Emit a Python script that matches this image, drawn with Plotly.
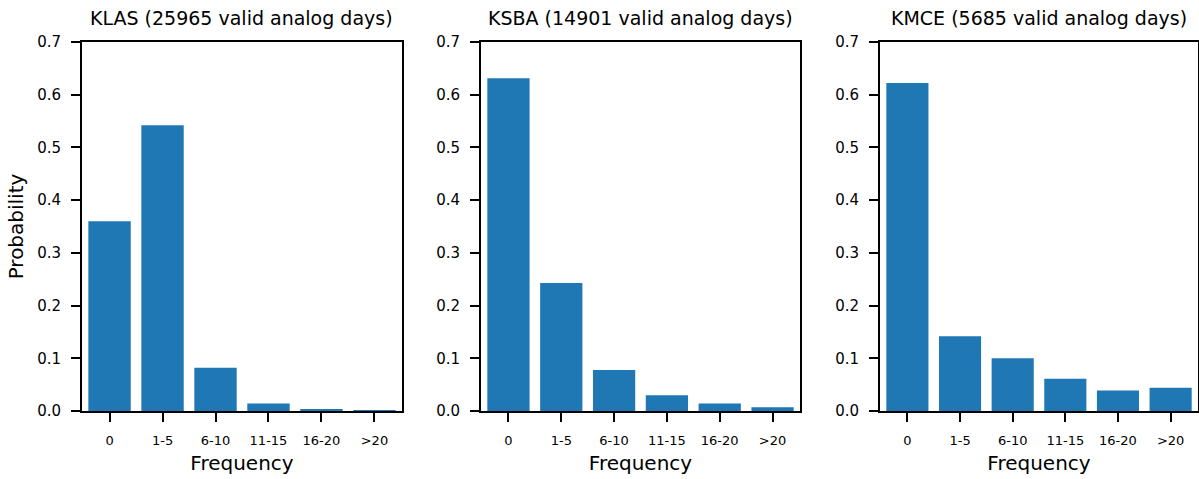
import plotly.graph_objects as go

categories = ["0", "1-5", "6-10", "11-15", "16-20", ">20"]
stations = ["KLAS", "KSBA", "KMCE"]
valid_days = [25965, 14901, 5685]
klas_prob = [0.360, 0.542, 0.082, 0.014, 0.002, 0.0005]
ksba_prob = [0.631, 0.243, 0.078, 0.030, 0.014, 0.007]
kmce_prob = [0.622, 0.142, 0.100, 0.061, 0.039, 0.044]
y_ticks = [0.0, 0.1, 0.2, 0.3, 0.4, 0.5, 0.6, 0.7]

series = [klas_prob, ksba_prob, kmce_prob]
W, H = 1199, 479
x_px = [(82, 402), (481, 800), (880, 1198)]
y_dom = [1 - 411 / H, 1 - 42 / H]

FONT = "DejaVu Sans"
BLUE = "#1f77b4"

fig = go.Figure()
annotations = []
for i, (st, nd, vals) in enumerate(zip(stations, valid_days, series)):
    idx = "" if i == 0 else str(i + 1)
    fig.add_trace(go.Bar(
        x=list(range(len(categories))), y=vals,
        marker=dict(color=BLUE, line=dict(width=0)),
        width=0.8, xaxis="x" + idx, yaxis="y" + idx, showlegend=False,
    ))
    dom = [x_px[i][0] / W, x_px[i][1] / W]
    axis_common = dict(
        showline=True, linecolor="black", linewidth=1.8, mirror=True,
        ticks="outside", ticklen=9, tickwidth=1.8, tickcolor="black",
        showgrid=False, zeroline=False, automargin=False,
    )
    fig.layout["xaxis" + idx] = dict(
        domain=dom, anchor="y" + idx, range=[-0.52, 5.52],
        tickmode="array", tickvals=list(range(len(categories))), ticktext=categories,
        tickfont=dict(family=FONT, size=13, color="black"), ticklabelstandoff=7,
        title=dict(text="Frequency", font=dict(family=FONT, size=20, color="black"), standoff=9),
        fixedrange=True, **axis_common,
    )
    fig.layout["yaxis" + idx] = dict(
        domain=y_dom, anchor="x" + idx, range=[0, 0.7],
        tickmode="array", tickvals=y_ticks, ticktext=[f"{v:.1f}" for v in y_ticks],
        tickfont=dict(family=FONT, size=15, color="black"), ticklabelstandoff=7,
        title=dict(text="Probability" if i == 0 else "", font=dict(family=FONT, size=20, color="black"), standoff=8),
        fixedrange=True, **axis_common,
    )
    annotations.append(dict(
        text=f"{st} ({nd} valid analog days)",
        x=(dom[0] + dom[1]) / 2, y=1 - 18 / H, xref="paper", yref="paper",
        xanchor="center", yanchor="middle", showarrow=False,
        font=dict(family=FONT, size=19, color="black"),
    ))

fig.update_layout(
    width=W, height=H, margin=dict(l=0, r=0, t=0, b=0, autoexpand=False),
    paper_bgcolor="white", plot_bgcolor="white",
    annotations=annotations, bargap=0.2,
)
fig.write_html(
    "out.html",
    config={"displayModeBar": False},
    post_script="document.body.style.margin='0';document.body.style.overflow='hidden';",
)
